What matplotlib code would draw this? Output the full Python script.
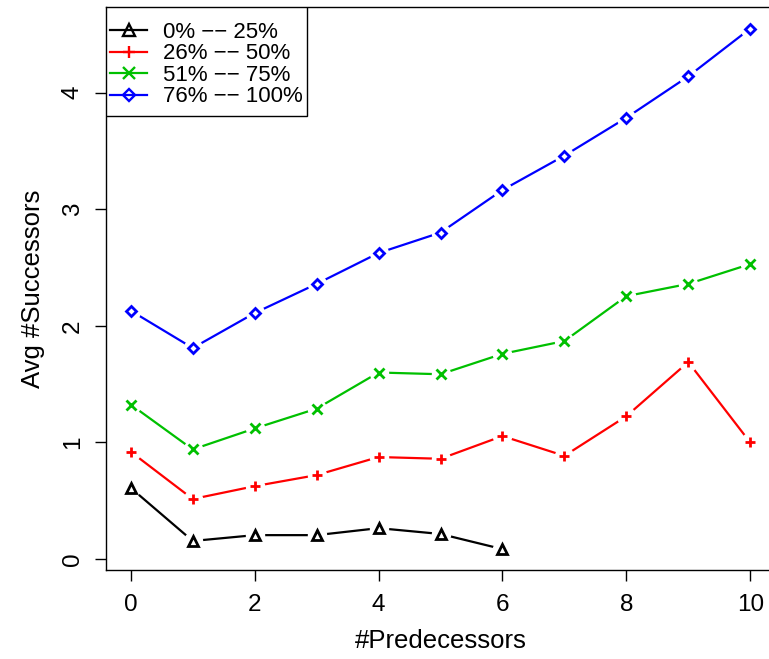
import matplotlib
matplotlib.use('Agg')
import matplotlib.pyplot as plt
from matplotlib.patches import Rectangle

plt.rcParams['font.family'] = ['Liberation Sans', 'DejaVu Sans']

preds = list(range(11))
q1 = [0.61, 0.155, 0.205, 0.205, 0.265, 0.215, 0.085]
q2 = [0.92, 0.515, 0.625, 0.72, 0.875, 0.86, 1.055, 0.885, 1.225, 1.69, 1.00]
q3 = [1.325, 0.94, 1.12, 1.29, 1.60, 1.585, 1.76, 1.87, 2.255, 2.36, 2.53]
q4 = [2.13, 1.81, 2.11, 2.36, 2.625, 2.80, 3.165, 3.46, 3.785, 4.14, 4.55]

# R draws the "--" of the labels as minus signs
labels = ['0% \u2212\u2212 25%', '26% \u2212\u2212 50%', '51% \u2212\u2212 75%', '76% \u2212\u2212 100%']
colors = ['black', '#ff0000', '#00c000', '#0000ff']
markers = ['^', '+', 'x', 'D']

fig = plt.figure(figsize=(7.69, 6.59), dpi=100)
ax = fig.add_axes([106/769, (659-570)/659, (775-106)/769, (570-7)/659])

series = [q1, q2, q3, q4]
for ys, lab, col, m in zip(series, labels, colors, markers):
    xs = preds[:len(ys)]
    filled = m in ('+', 'x')
    ms = 5 if m == 'D' else 6.5
    # line, then white discs to make the gaps (like R type="b")
    ax.plot(xs, ys, color=col, lw=1.6, zorder=1)
    ax.plot(xs, ys, ls='none', marker='o', ms=14, mfc='white', mec='none', zorder=2)
    ax.plot(xs, ys, ls='none', marker=m, ms=ms,
            mfc=col if filled else 'none', mec=col, mew=2, zorder=3)
    ax.plot([], [], color=col, lw=1.6, marker=m, ms=ms + 1.5,
            mfc=col if filled else 'none', mec=col, mew=1.7, label=lab)

ax.set_xlim(-0.4, 10.4)
ax.set_ylim(-0.094, 4.735)
ax.set_xticks([0, 2, 4, 6, 8, 10])
ax.set_yticks([0, 1, 2, 3, 4])
ax.tick_params(direction='out', length=8, width=1, labelsize=17.5)
ax.tick_params(axis='x', pad=9)
ax.tick_params(axis='y', pad=8)
for lab in ax.get_yticklabels():
    lab.set_rotation(90)
    lab.set_va('center')
for s in ax.spines.values():
    s.set_linewidth(1)

ax.set_xlabel('#Predecessors', fontsize=18.5, labelpad=10)
ax.set_ylabel('Avg #Successors', fontsize=18.5, labelpad=12)

# legend without frame, box drawn by hand with R-like padding
aw, ah = 669, 563
leg = ax.legend(loc='upper left', bbox_to_anchor=(4/aw, 1 - 15/ah), borderaxespad=0,
                borderpad=0, fontsize=16, frameon=False, labelspacing=0.02,
                handlelength=1.67, handletextpad=0.72)
leg.set_zorder(6)
fig.canvas.draw()
bb = leg.get_window_extent().transformed(ax.transAxes.inverted())
x0, y0 = 0, bb.y0 - 9/ah
rect = Rectangle((x0, y0), bb.x1 + 4/aw - x0, 1 - y0, transform=ax.transAxes,
                 facecolor='white', edgecolor='black', lw=1, zorder=5)
ax.add_patch(rect)

fig.savefig('out.png', dpi=100)
